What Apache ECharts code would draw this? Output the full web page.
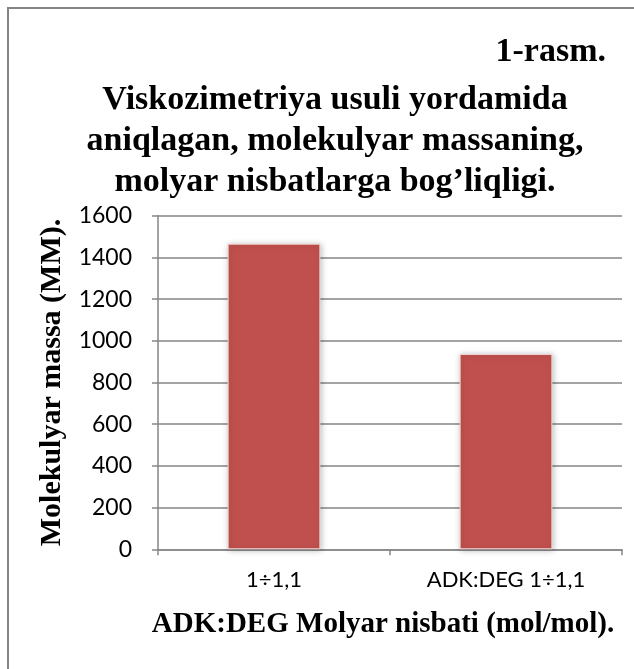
<!DOCTYPE html>
<html>
<head>
<meta charset="utf-8">
<script src="https://cdn.jsdelivr.net/npm/echarts@6/dist/echarts.min.js"></script>
<style>
  html, body { margin: 0; padding: 0; background: #ffffff; }
  #chart { width: 634px; height: 669px; }
</style>
</head>
<body>
<div id="chart"></div>
<script>
// Molar ratio categories and viscometric molecular mass values
const categories = ['1÷1,1', 'ADK:DEG 1÷1,1'];
const molecularMass = [1466, 937];
const yTicks = { min: 0, max: 1600, interval: 200 };

const figureLabel = '1-rasm.';
const titleLines = [
  'Viskozimetriya usuli yordamida',
  'aniqlagan, molekulyar massaning,',
  'molyar nisbatlarga bog\u2019liqligi.'
];
const yAxisName = 'Molekulyar massa (MM).';
const xAxisName = 'ADK:DEG Molyar nisbati (mol/mol).';

const serif = '"Liberation Serif", "Times New Roman", serif';
const sans = 'Lato, "Open Sans", sans-serif';
const gridGray = '#868686';

const chart = echarts.init(document.getElementById('chart'), null, { renderer: 'canvas' });

chart.setOption({
  backgroundColor: '#ffffff',
  animation: false,
  graphic: [
    {
      type: 'rect',
      shape: { x: 8, y: 8, width: 700, height: 700 },
      style: { fill: 'none', stroke: '#858585', lineWidth: 2 },
      silent: true,
      z: -10
    }
  ],
  title: [
    {
      text: figureLabel,
      right: 23,
      top: 30,
      textStyle: { fontFamily: serif, fontWeight: 'bold', fontSize: 34, color: '#000' }
    },
    {
      text: titleLines.join('\n'),
      left: 330,
      top: 75,
      textAlign: 'center',
      textStyle: { fontFamily: serif, fontWeight: 'bold', fontSize: 34, lineHeight: 41, color: '#000' }
    }
  ],
  grid: { left: 158, right: 12, top: 215.7, bottom: 119.7 },
  xAxis: {
    type: 'category',
    data: categories,
    name: xAxisName,
    nameLocation: 'middle',
    nameGap: 61,
    nameTextStyle: {
      fontFamily: serif, fontWeight: 'bold', fontSize: 29, color: '#000',
      padding: [0, 14, 0, 0]
    },
    axisLine: { lineStyle: { color: gridGray, width: 1.5 } },
    axisTick: { show: true, length: 6, lineStyle: { color: gridGray, width: 1.5 } },
    axisLabel: { fontFamily: sans, fontSize: 22, color: '#000', margin: 20 }
  },
  yAxis: {
    type: 'value',
    min: yTicks.min,
    max: yTicks.max,
    interval: yTicks.interval,
    name: yAxisName,
    nameLocation: 'middle',
    nameGap: 90,
    nameRotate: 90,
    nameTextStyle: { fontFamily: serif, fontWeight: 'bold', fontSize: 30, color: '#000' },
    axisLine: { show: true, lineStyle: { color: gridGray, width: 1.5 } },
    axisTick: { show: true, length: 6, lineStyle: { color: gridGray, width: 1.5 } },
    splitLine: { show: true, lineStyle: { color: gridGray, width: 1.5 } },
    axisLabel: {
      fontFamily: sans, fontSize: 23, color: '#000', margin: 26,
      formatter: (v) => String(v)
    }
  },
  series: [
    {
      type: 'bar',
      data: molecularMass,
      barWidth: '40%',
      itemStyle: {
        color: '#C0504D',
        borderColor: '#f2d9d8',
        borderWidth: 1,
        shadowBlur: 6,
        shadowColor: 'rgba(0,0,0,0.25)',
        shadowOffsetX: 1,
        shadowOffsetY: 1
      }
    }
  ]
});
</script>
</body>
</html>
